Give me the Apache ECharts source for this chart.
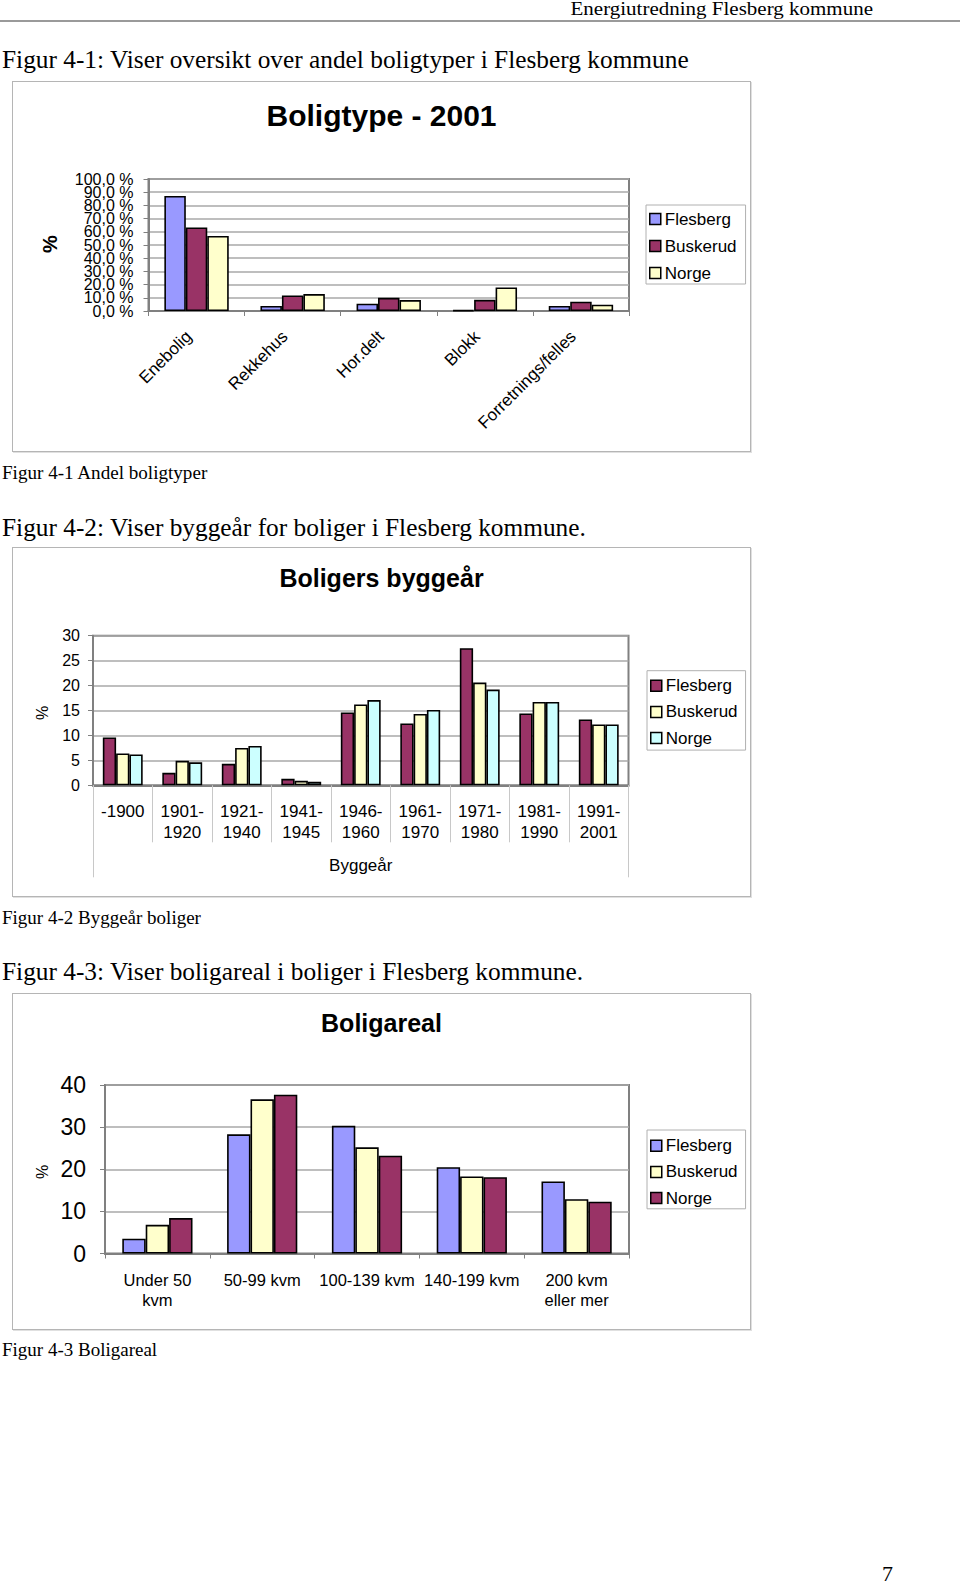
<!DOCTYPE html>
<html><head><meta charset="utf-8">
<script src="https://cdn.jsdelivr.net/npm/echarts@6/dist/echarts.min.js"></script>
<style>
html,body{margin:0;padding:0;background:#fff;}
body{width:960px;height:1585px;position:relative;overflow:hidden;font-family:"Liberation Serif","Times New Roman",serif;color:#000;}
.t{position:absolute;white-space:nowrap;line-height:1;}
.frame{position:absolute;border:1.5px solid #b5b5b5;box-sizing:border-box;box-shadow:1px 1px 0 #e0e0e0;}
.chart{position:absolute;}
</style></head><body>
<div class="t" style="right:87px;top:1px;font-size:21px;transform:scaleY(0.85);transform-origin:50% 0;">Energiutredning Flesberg kommune</div>
<div style="position:absolute;left:0;top:20px;width:960px;height:2px;background:#9a9a9a"></div>
<div class="t" style="left:2px;top:47px;font-size:25.35px;">Figur 4-1: Viser oversikt over andel boligtyper i Flesberg kommune</div>
<div class="frame" style="left:12px;top:81px;width:739px;height:371px;"></div>
<div class="chart" id="c1" style="left:12px;top:81px;width:739px;height:371px;"></div>
<div class="t" style="left:2px;top:463px;font-size:19.1px;">Figur 4-1 Andel boligtyper</div>

<div class="t" style="left:2px;top:515px;font-size:25.35px;">Figur 4-2: Viser byggeår for boliger i Flesberg kommune.</div>
<div class="frame" style="left:12px;top:547px;width:739px;height:350px;"></div>
<div class="chart" id="c2" style="left:12px;top:547px;width:739px;height:350px;"></div>
<div class="t" style="left:2px;top:908px;font-size:19px;">Figur 4-2 Byggeår boliger</div>

<div class="t" style="left:2px;top:959px;font-size:25.35px;">Figur 4-3: Viser boligareal i boliger i Flesberg kommune.</div>
<div class="frame" style="left:12px;top:993px;width:739px;height:337px;"></div>
<div class="chart" id="c3" style="left:12px;top:993px;width:739px;height:337px;"></div>
<div class="t" style="left:2px;top:1340px;font-size:19px;">Figur 4-3 Boligareal</div>

<div class="t" style="left:882px;top:1563px;font-size:22px;">7</div>
<script>
// ---------- Data ----------
const seriesNames = ['Flesberg', 'Buskerud', 'Norge'];

// Figur 4-1
const types = ['Enebolig', 'Rekkehus', 'Hor.delt', 'Blokk', 'Forretnings/felles'];
const typeFlesberg = [87.2, 3.8, 5.5, 0.6, 3.8];
const typeBuskerud = [63.3, 11.8, 10.0, 8.5, 7.0];
const typeNorge    = [56.8, 12.8, 8.3, 17.8, 4.8];
const typeYLabels  = ['0,0 %','10,0 %','20,0 %','30,0 %','40,0 %','50,0 %','60,0 %','70,0 %','80,0 %','90,0 %','100,0 %'];

// Figur 4-2
const periods = ['-1900', '1901-\n1920', '1921-\n1940', '1941-\n1945', '1946-\n1960', '1961-\n1970', '1971-\n1980', '1981-\n1990', '1991-\n2001'];
const yearFlesberg = [9.6, 2.5, 4.3, 1.3, 14.6, 12.4, 27.5, 14.4, 13.2];
const yearBuskerud = [6.4, 4.9, 7.5, 0.9, 16.2, 14.3, 20.6, 16.7, 12.2];
const yearNorge    = [6.2, 4.6, 7.9, 0.7, 17.1, 15.1, 19.2, 16.7, 12.2];
const yearAxisTitle = ['Byggeår'];

// Figur 4-3
const areas = ['Under 50\nkvm', '50-99 kvm', '100-139 kvm', '140-199 kvm', '200 kvm\neller mer'];
const areaFlesberg = [3.5, 28.3, 30.3, 20.5, 17.1];
const areaBuskerud = [6.8, 36.6, 25.2, 18.3, 12.9];
const areaNorge    = [8.4, 37.7, 23.2, 18.1, 12.3];

// ---------- Styling helpers ----------
const SANS = '"Liberation Sans", Arial, sans-serif';
const GRIDLINE = '#a8a8a8';
const AXIS = '#808080';

function barSeries(name, data, color) {
  return {
    name, type: 'bar', data,
    barGap: '0%', barCategoryGap: '33%',
    itemStyle: { color, borderColor: '#000', borderWidth: 1.6 },
    emphasis: { disabled: true }
  };
}
function legendCfg(left, top, pad, gap) {
  return {
    orient: 'vertical', left, top, padding: pad, itemGap: gap,
    itemWidth: 11, itemHeight: 11, icon: 'rect',
    borderColor: '#b0b0b0', borderWidth: 1, backgroundColor: '#fff',
    itemStyle: { borderColor: '#000', borderWidth: 1.5 },
    textStyle: { fontFamily: SANS, fontSize: 17, color: '#000', padding: [0,0,0,-1] },
    selectedMode: false
  };
}
function titleCfg(text, top, size) {
  return {
    text, left: 'center', top,
    textStyle: { fontFamily: SANS, fontWeight: 'bold', fontSize: size, color: '#000', lineHeight: size }
  };
}
function pctText(x, y, size, weight) {
  return {
    type: 'text', x, y, rotation: Math.PI / 2, silent: true,
    style: { text: '%', fontFamily: SANS, fontSize: size, fontWeight: weight, fill: '#000', align: 'center', verticalAlign: 'middle' }
  };
}
function gridCfg(left, top, width, height) {
  return { left, top, width, height, show: true, borderColor: AXIS, borderWidth: 2,
           outerBoundsMode: 'none', containLabel: false };
}
function valueAxis(max, interval, labelMargin, fontSize, extra) {
  return Object.assign({
    type: 'value', min: 0, max, interval,
    axisLine: { show: true, lineStyle: { color: AXIS, width: 2 } },
    axisTick: { show: true, length: 5, lineStyle: { color: AXIS } },
    splitLine: { lineStyle: { color: GRIDLINE, width: 1.5 } },
    axisLabel: Object.assign({ margin: labelMargin, fontFamily: SANS, fontSize, color: '#000',
      showMinLabel: true, showMaxLabel: true, hideOverlap: false }, extra || {})
  });
}

// ---------- Chart 1 ----------
const c1 = echarts.init(document.getElementById('c1'), null, { renderer: 'svg' });
c1.setOption({
  animation: false,
  title: titleCfg('Boligtype - 2001', 14, 30),
  legend: Object.assign(legendCfg(634, 124, [5.5, 9, 2.5, 3], 10), { data: seriesNames }),
  grid: gridCfg(136.5, 98, 480.5, 132),
  xAxis: {
    type: 'category', data: types,
    axisLine: { lineStyle: { color: AXIS, width: 2 } },
    axisTick: { show: true, length: 5, interval: 0, lineStyle: { color: AXIS } },
    axisLabel: { rotate: 45, margin: 15, interval: 0, padding: [0, 11, 0, 0], fontFamily: SANS, fontSize: 17, color: '#000' }
  },
  yAxis: [
    valueAxis(100, 10, 15, 16, { show: false }),
    {
      // label-only axis so that every (crowded) tick label is drawn
      type: 'category', data: typeYLabels, boundaryGap: false, position: 'left',
      axisLine: { show: false }, axisTick: { show: false }, splitLine: { show: false },
      axisLabel: { interval: 0, margin: 15, fontFamily: SANS, fontSize: 16, color: '#000' }
    }
  ],
  graphic: [pctText(38, 163, 20, 'bold')],
  series: [
    barSeries(seriesNames[0], typeFlesberg, '#9999FF'),
    barSeries(seriesNames[1], typeBuskerud, '#993366'),
    barSeries(seriesNames[2], typeNorge, '#FFFFCC')
  ]
});

// ---------- Chart 2 ----------
const c2 = echarts.init(document.getElementById('c2'), null, { renderer: 'svg' });
c2.setOption({
  animation: false,
  title: titleCfg('Boligers byggeår', 13.5, 25),
  legend: Object.assign(legendCfg(635, 123.7, [6.5, 8, 3.5, 3], 9.2), { data: seriesNames }),
  grid: gridCfg(81, 88.7, 535.5, 149.6),
  xAxis: [{
    type: 'category', data: periods,
    axisLine: { lineStyle: { color: AXIS, width: 2 } },
    axisTick: { show: true, length: 57, interval: 0, lineStyle: { color: '#c8c8c8' } },
    axisLabel: { margin: 16, interval: 0, fontFamily: SANS, fontSize: 17, lineHeight: 21, color: '#000' }
  }, {
    type: 'category', data: yearAxisTitle, position: 'bottom',
    axisLine: { show: false },
    axisTick: { show: true, length: 92, interval: 0, lineStyle: { color: '#c8c8c8' } },
    axisLabel: { margin: 72, fontFamily: SANS, fontSize: 17, color: '#000' },
    splitLine: { show: false }
  }],
  yAxis: valueAxis(30, 5, 13, 16),
  graphic: [pctText(30, 166, 16, 'normal')],
  series: [
    barSeries(seriesNames[0], yearFlesberg, '#993366'),
    barSeries(seriesNames[1], yearBuskerud, '#FFFFCC'),
    barSeries(seriesNames[2], yearNorge, '#CCFFFF')
  ]
});

// ---------- Chart 3 ----------
const c3 = echarts.init(document.getElementById('c3'), null, { renderer: 'svg' });
c3.setOption({
  animation: false,
  title: titleCfg('Boligareal', 12, 25),
  legend: Object.assign(legendCfg(635, 137, [7.2, 8, 2.2, 3], 9.2), { data: seriesNames }),
  grid: gridCfg(93, 92, 524, 168.5),
  xAxis: {
    type: 'category', data: areas,
    axisLine: { lineStyle: { color: AXIS, width: 2 } },
    axisTick: { show: true, length: 5, interval: 0, lineStyle: { color: AXIS } },
    axisLabel: { margin: 16.5, interval: 0, fontFamily: SANS, fontSize: 16.5, lineHeight: 20, color: '#000' }
  },
  yAxis: valueAxis(40, 10, 19, 23),
  graphic: [pctText(30, 179, 16, 'normal')],
  series: [
    barSeries(seriesNames[0], areaFlesberg, '#9999FF'),
    barSeries(seriesNames[1], areaBuskerud, '#FFFFCC'),
    barSeries(seriesNames[2], areaNorge, '#993366')
  ]
});
</script>
</body></html>
